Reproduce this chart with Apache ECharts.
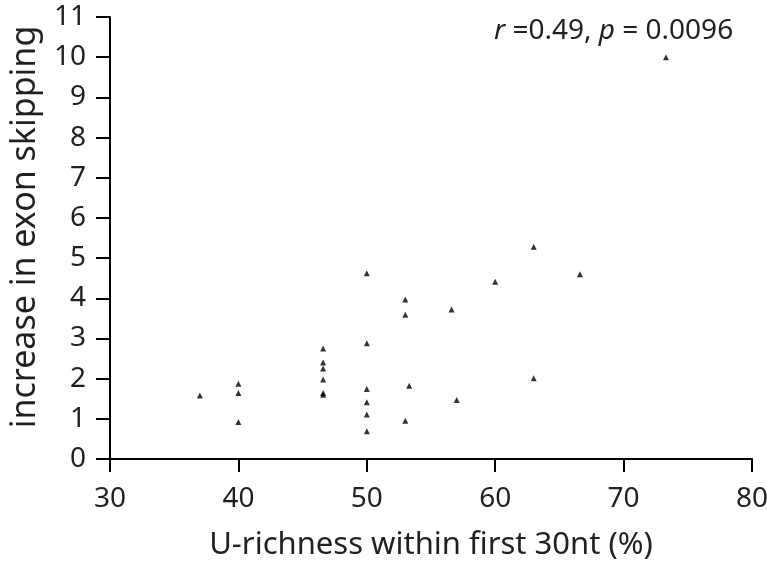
<!DOCTYPE html>
<html>
<head>
<meta charset="utf-8">
<script src="https://cdn.jsdelivr.net/npm/echarts@6/dist/echarts.min.js"></script>
<style>html,body{margin:0;padding:0;background:#fff;}#c{width:767px;height:561px;}</style>
</head>
<body>
<div id="c"></div>
<script>
// U-richness within first 30nt (%)
var uRichness = [37.0, 40.0, 40.0, 40.0, 46.6, 46.6, 46.6, 46.6, 46.6, 46.6,
                 50.0, 50.0, 50.0, 50.0, 50.0, 50.0, 53.0, 53.0, 53.3, 53.0,
                 56.6, 57.0, 60.0, 63.0, 63.0, 66.6, 73.3];
// increase in exon skipping
var exonSkipping = [1.58, 1.87, 1.64, 0.92, 2.75, 2.40, 2.25, 1.98, 1.64, 1.60,
                    4.62, 2.88, 1.74, 1.41, 1.11, 0.69, 3.97, 3.59, 1.82, 0.95,
                    3.72, 1.47, 4.41, 5.28, 2.01, 4.60, 10.0];
var xTicks = [30, 40, 50, 60, 70, 80];
var yTicks = [0, 1, 2, 3, 4, 5, 6, 7, 8, 9, 10, 11];
var statText = ['r', ' =0.49, ', 'p', ' = 0.0096'];

var points = uRichness.map(function (x, i) { return [x, exonSkipping[i]]; });
var FONT = 'Noto Sans';
var TXT = '#231f20';
var chart = echarts.init(document.getElementById('c'), null, {renderer: 'canvas'});
chart.setOption({
  animation: false,
  backgroundColor: '#fff',
  textStyle: {fontFamily: FONT},
  title: {
    left: 489, top: 12,
    text: '{i|' + statText[0] + '}' + statText[1] + '{i|' + statText[2] + '}' + statText[3],
    textStyle: {
      fontFamily: FONT, fontSize: 28, fontWeight: 'normal', color: TXT,
      rich: {i: {fontFamily: FONT, fontSize: 28, fontStyle: 'italic', color: TXT}}
    }
  },
  grid: {left: 110, right: 15, top: 17, bottom: 102, containLabel: false, outerBoundsMode: 'none'},
  xAxis: {
    type: 'value', min: xTicks[0], max: xTicks[xTicks.length - 1], interval: 10,
    name: 'U-richness within first 30nt (%)', nameLocation: 'middle', nameGap: 71,
    nameTextStyle: {fontFamily: FONT, fontSize: 31, color: TXT},
    axisLine: {show: true, onZero: false, lineStyle: {color: '#000', width: 2}},
    axisTick: {show: true, inside: false, length: 13, lineStyle: {color: '#000', width: 2}},
    axisLabel: {fontFamily: FONT, fontSize: 28, color: TXT, margin: 26},
    splitLine: {show: false}
  },
  yAxis: {
    type: 'value', min: yTicks[0], max: yTicks[yTicks.length - 1], interval: 1,
    name: 'increase in exon skipping', nameLocation: 'middle', nameGap: 68,
    nameTextStyle: {fontFamily: FONT, fontSize: 34, color: TXT, padding: [0, 0, 0, 22]},
    axisLine: {show: true, onZero: false, lineStyle: {color: '#000', width: 2}},
    axisTick: {show: true, inside: false, length: 14, lineStyle: {color: '#000', width: 2}},
    axisLabel: {fontFamily: FONT, fontSize: 28, color: TXT, margin: 24},
    splitLine: {show: false}
  },
  series: [{
    type: 'scatter',
    data: points,
    symbol: 'triangle',
    symbolSize: 6,
    itemStyle: {color: '#000'}
  }]
});
</script>
</body>
</html>
